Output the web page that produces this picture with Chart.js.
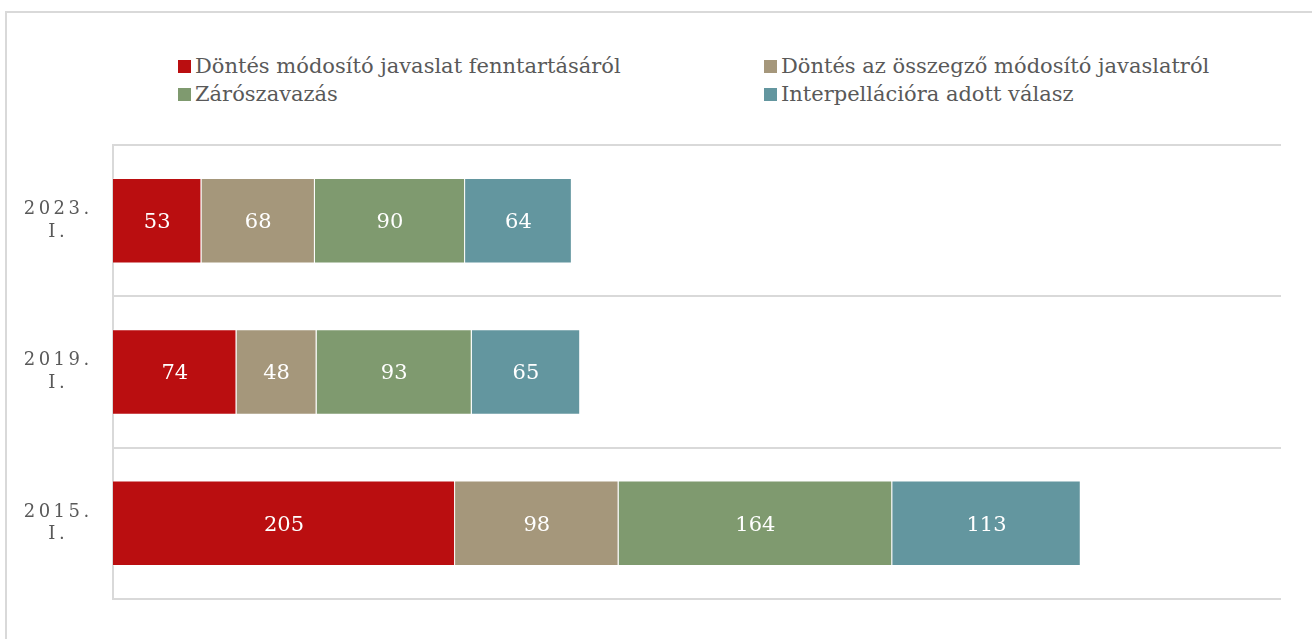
<!DOCTYPE html>
<html>
<head>
<meta charset="utf-8">
<script src="https://cdn.jsdelivr.net/npm/chart.js@4.4.1/dist/chart.umd.min.js"></script>
<style>
  html, body { margin: 0; padding: 0; background: #fff; }
  body { width: 1312px; height: 639px; position: relative; overflow: hidden; }
  #frame { position: absolute; left: 5px; top: 11px; width: 1400px; height: 700px; border: 2px solid #d9d9d9; }
  #chartbox { position: absolute; left: 0; top: 0; width: 1312px; height: 639px; }
  .leg { position: absolute; font-family: "DejaVu Serif", serif; font-size: 21px; color: #595959; white-space: nowrap; line-height: 22px; }
  .leg i { display: inline-block; width: 13px; height: 13px; margin-right: 4px; vertical-align: 0px; }
</style>
</head>
<body>
<div id="frame"></div>
<div id="legend"></div>
<div id="chartbox"><canvas id="mycanvas"></canvas></div>
<script>
var categories = [['2023.', 'I.'], ['2019.', 'I.'], ['2015.', 'I.']];
var seriesNames = [
  'Döntés módosító javaslat fenntartásáról',
  'Döntés az összegző módosító javaslatról',
  'Zárószavazás',
  'Interpellációra adott válasz'
];
var fenntartas = [53, 74, 205];
var osszegzo = [68, 48, 98];
var zaroszavazas = [90, 93, 164];
var interpellacio = [64, 65, 113];
var colors = ['#ba0e10', '#a5977b', '#7f9a6f', '#63969f'];

// legend as html, two columns
var legPos = [[178, 55], [764, 55], [178, 83], [764, 83]];
var legend = document.getElementById('legend');
for (var i = 0; i < seriesNames.length; i++) {
  var d = document.createElement('div');
  d.className = 'leg';
  d.style.left = legPos[i][0] + 'px';
  d.style.top = legPos[i][1] + 'px';
  d.innerHTML = '<i style="background:' + colors[i] + '"></i>' + seriesNames[i];
  legend.appendChild(d);
}

var valueLabels = {
  id: 'valueLabels',
  beforeDraw: function(chart) { chart.ctx.letterSpacing = '3.5px'; },
  beforeDatasetsDraw: function(chart) { chart.ctx.letterSpacing = '0px'; },
  afterDatasetsDraw: function(chart) {
    var ctx = chart.ctx;
    ctx.save();
    ctx.font = '21px "DejaVu Serif", serif';
    ctx.fillStyle = '#ffffff';
    ctx.textAlign = 'center';
    ctx.textBaseline = 'middle';
    chart.data.datasets.forEach(function(ds, di) {
      chart.getDatasetMeta(di).data.forEach(function(bar, j) {
        ctx.fillText(ds.data[j], (bar.x + bar.base) / 2, bar.y + 2);
      });
    });
    ctx.restore();
  }
};

var sets = [fenntartas, osszegzo, zaroszavazas, interpellacio];
var chartdata = {
  labels: categories,
  datasets: sets.map(function(s, i) {
    return {
      label: seriesNames[i],
      data: s,
      backgroundColor: colors[i],
      borderColor: 'rgba(255,255,255,0.35)',
      borderWidth: 1,
      barPercentage: 0.565,
      categoryPercentage: 1
    };
  })
};

var ctx = document.getElementById('mycanvas');
var barGraph = new Chart(ctx, {
  type: 'bar',
  data: chartdata,
  plugins: [valueLabels],
  options: {
    indexAxis: 'y',
    responsive: true,
    maintainAspectRatio: false,
    animation: false,
    layout: { padding: { top: 145, bottom: 40, right: 31, left: 0 } },
    plugins: { legend: { display: false }, tooltip: { enabled: false } },
    scales: {
      x: { stacked: true, min: 0, max: 700, display: false },
      y: {
        stacked: true,
        afterFit: function(scale) {
          scale.width = 113;
          scale.paddingTop = 0;
          scale.paddingBottom = 0;
        },
        grid: { offset: true, color: '#d9d9d9', lineWidth: 2, drawTicks: false },
        border: { color: '#d9d9d9', width: 2 },
        ticks: {
          crossAlign: 'center',
          padding: 29,
          color: '#595959',
          font: { family: '"DejaVu Serif", serif', size: 18, lineHeight: 1.25 }
        }
      }
    }
  }
});
</script>
</body>
</html>
